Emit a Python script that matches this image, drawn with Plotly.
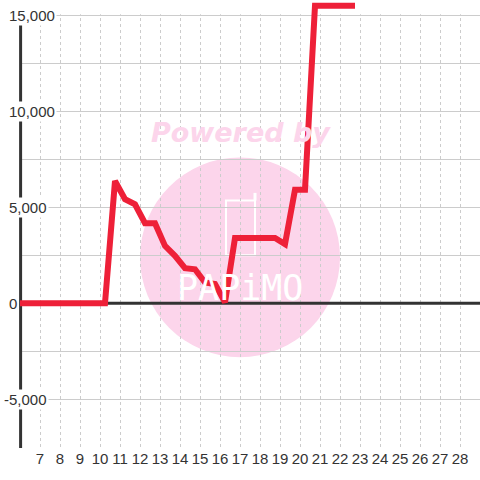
import plotly.graph_objects as go

# ── Data ───────────────────────────────────────────────────────────────────────
DAYS = [6.0, 10.25, 10.75, 11.25, 11.75, 12.25, 12.75, 13.25, 13.75, 14.25,
        14.75, 15.25, 15.75, 16.25, 16.75, 17.25, 17.75, 18.25, 18.75, 19.25,
        19.75, 20.25, 20.75, 21.25, 21.75, 22.25, 22.75]
VALUES = [0, 0, 6370, 5420, 5160, 4170, 4170, 2990, 2470, 1830,
          1770, 1080, 1000, 50, 3400, 3400, 3400, 3400, 3400, 3080,
          5920, 5920, 15500, 15500, 15500, 15500, 15500]

X_TICKS = list(range(7, 29))
Y_GRID = [-7500, -5000, -2500, 0, 2500, 5000, 7500, 10000, 12500, 15000]
Y_LABELS = [15000, 10000, 5000, 0, -5000]

LINE_COLOR = "#ee2038"
AXIS_COLOR = "#333333"
GRID_COLOR = "#cccccc"
WATERMARK = "#fcd5eb"

fig = go.Figure()
fig.add_scatter(
    x=DAYS,
    y=VALUES,
    mode="lines",
    line=dict(color=LINE_COLOR, width=6),
    hoverinfo="skip",
)

shapes = [
    # watermark circle + logo
    dict(type="circle", xref="x", yref="y", x0=12, x1=22, y0=-2810, y1=7600,
         fillcolor=WATERMARK, line_width=0, layer="below"),
    dict(type="rect", xref="x", yref="y", x0=16.3, x1=17.75, y0=2500, y1=5350,
         line=dict(color="white", width=2), layer="below"),
    dict(type="line", xref="x", yref="y", x0=17.75, x1=17.75, y0=5350, y1=5750,
         line=dict(color="white", width=3), layer="below"),
    # hide grid outside the chart frame
    dict(type="rect", xref="x", yref="y", x0=5, x1=6, y0=-7600, y1=16000,
         fillcolor="white", line_width=0, layer="between"),
    dict(type="rect", xref="x", yref="y", x0=5, x1=29.5, y0=15060, y1=16000,
         fillcolor="white", line_width=0, layer="between"),
    # axis lines
    dict(type="line", xref="x", yref="y", x0=6.03, x1=6.03, y0=-7540, y1=15000,
         line=dict(color=AXIS_COLOR, width=3), layer="between"),
    dict(type="line", xref="x", yref="y", x0=6.03, x1=29, y0=0, y1=0,
         line=dict(color=AXIS_COLOR, width=3), layer="between"),
]

annotations = [
    dict(text="Powered by", x=17.05, y=8900, xref="x", yref="y", showarrow=False,
         font=dict(family="DejaVu Sans", size=27, color=WATERMARK,
                   weight="bold", style="italic")),
    dict(text="PAPiMO", x=17.0, y=800, xref="x", yref="y", showarrow=False,
         font=dict(family="DejaVu Sans Mono", size=35, color="white")),
]
for v in Y_LABELS:
    annotations.append(dict(
        text=f"{v:,}", x=5.35, y=v, xref="x", yref="y", showarrow=False,
        xanchor="left", xshift=-5 if v < 0 else 0, bgcolor="white", borderpad=1,
        font=dict(family="Liberation Sans", size=15, color=AXIS_COLOR),
    ))

fig.update_layout(
    width=480,
    height=480,
    margin=dict(l=0, r=0, t=0, b=32),
    paper_bgcolor="white",
    plot_bgcolor="white",
    showlegend=False,
    shapes=shapes,
    annotations=annotations,
    font=dict(family="Liberation Sans", size=15, color=AXIS_COLOR),
    xaxis=dict(
        range=[5, 29],
        tickvals=X_TICKS,
        showgrid=True,
        gridcolor=GRID_COLOR,
        griddash="3px,3px",
        gridwidth=1,
        zeroline=False,
        showline=False,
        ticks="",
        fixedrange=True,
    ),
    yaxis=dict(
        range=[-7540, 15800],
        tickvals=Y_GRID,
        showticklabels=False,
        showgrid=True,
        gridcolor=GRID_COLOR,
        gridwidth=1,
        zeroline=False,
        showline=False,
        ticks="",
        fixedrange=True,
    ),
)

fig.write_html(
    "out.html",
    config={"displayModeBar": False},
    post_script="document.body.style.margin='0';document.body.style.overflow='hidden';",
)
